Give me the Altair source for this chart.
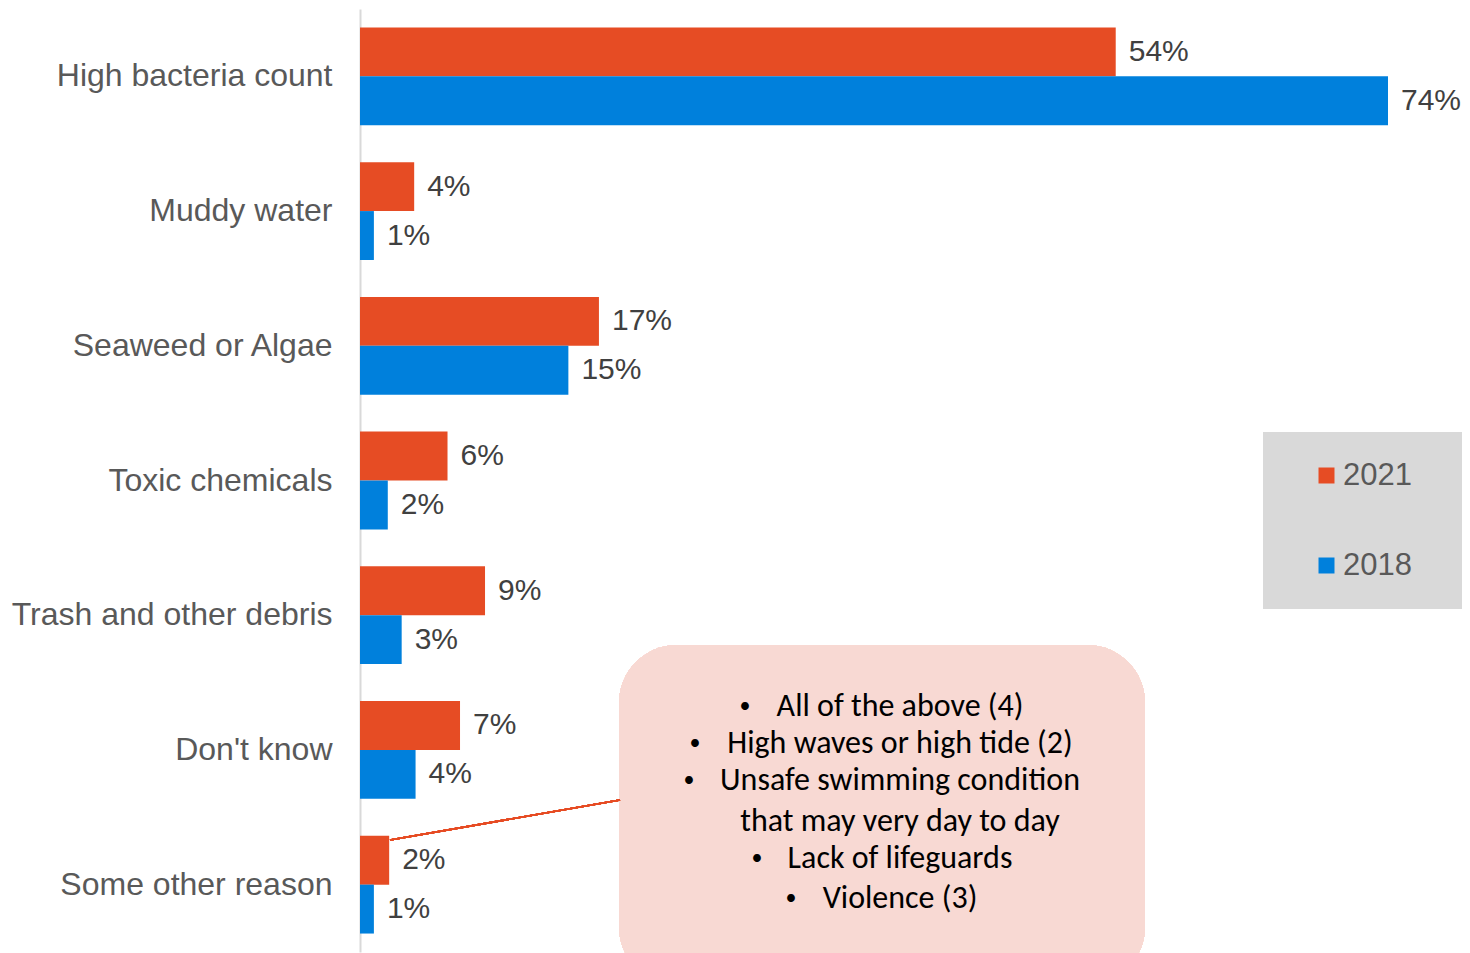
import altair as alt
import pandas as pd

categories = ["High bacteria count", "Muddy water", "Seaweed or Algae", "Toxic chemicals",
              "Trash and other debris", "Don't know", "Some other reason"]
years = ["2021", "2018"]
values_2021 = [54.4, 3.9, 17.2, 6.3, 9.0, 7.2, 2.1]
values_2018 = [74.0, 1.0, 15.0, 2.0, 3.0, 4.0, 1.0]
colors = ["#E64C24", "#0080DC"]

note_lines = [
    "All of the above (4)",
    "High waves or high tide (2)",
    "Unsafe swimming condition",
    "that may very day to day",
    "Lack of lifeguards",
    "Violence (3)",
]
note_bullets = [True, True, True, False, True, True]

rows = []
for c, a, b in zip(categories, values_2021, values_2018):
    rows.append({"cat": c, "year": "2021", "value": a, "label": f"{round(a)}%"})
    rows.append({"cat": c, "year": "2018", "value": b, "label": f"{round(b)}%"})
df = pd.DataFrame(rows)

W, H = 1028, 943
LABEL_FONT = "Liberation Sans"
NOTE_FONT = "Carlito, Liberation Sans Narrow, Open Sans, sans-serif"

x = alt.X("value:Q", scale=alt.Scale(domain=[0, 74], nice=False, zero=True), axis=None)
y = alt.Y("cat:N", sort=categories, title=None,
          scale=alt.Scale(paddingInner=0.274, paddingOuter=0.137),
          axis=alt.Axis(ticks=False, labelPadding=28, labelFontSize=32, labelFont=LABEL_FONT,
                        labelColor="#595959", domainColor="#d9d9d9", domainWidth=2,
                        labelLimit=400, grid=False))
yoff = alt.YOffset("year:N", sort=years, scale=alt.Scale(paddingInner=0, paddingOuter=0))

base = alt.Chart(df)

legend_box = base.mark_rect(color="#d9d9d9").encode(
    x=alt.value(903), x2=alt.value(1103), y=alt.value(423), y2=alt.value(600))

bars = base.mark_bar().encode(
    x=x, y=y, yOffset=yoff,
    color=alt.Color("year:N", sort=years,
                    scale=alt.Scale(domain=years, range=colors),
                    legend=alt.Legend(title=None, orient="none", legendX=951, legendY=451,
                                      symbolType="square", symbolSize=256,
                                      symbolStrokeWidth=0, labelFontSize=31,
                                      labelFont=LABEL_FONT, labelColor="#595959",
                                      labelOffset=1, rowPadding=58, padding=0)),
)

labels = base.mark_text(align="left", baseline="middle", dx=13, fontSize=30,
                        font=LABEL_FONT, color="#404040").encode(
    x=x, y=y, yOffset=yoff, text="label:N")

note_box = base.mark_rect(color="#F8D9D3", cornerRadius=58).encode(
    x=alt.value(259), x2=alt.value(785), y=alt.value(636), y2=alt.value(976))

connector = base.mark_rule(color="#E64C24", strokeWidth=1.5).encode(
    x=alt.value(30), x2=alt.value(260), y=alt.value(831), y2=alt.value(791))

note_y = [697, 734, 771, 812, 849, 889]
bullet_x = [385, 335, 329, None, 397, 431]
note_layers = []
for t, ny, has_b, bx in zip(note_lines, note_y, note_bullets, bullet_x):
    note_layers.append(
        alt.Chart(pd.DataFrame({"t": [t]})).mark_text(
            align="center", baseline="middle", fontSize=32, font=NOTE_FONT, color="#000000"
        ).encode(x=alt.value(540), y=alt.value(ny), text="t:N"))
    if has_b:
        note_layers.append(
            alt.Chart(pd.DataFrame({"t": ["\u2022"]})).mark_text(
                align="center", baseline="middle", fontSize=22, font=NOTE_FONT, color="#000000"
            ).encode(x=alt.value(bx), y=alt.value(ny), text="t:N"))

chart = alt.layer(legend_box, bars, labels, note_box, connector, *note_layers).properties(
    width=W, height=H,
    autosize=alt.AutoSizeParams(type="none"),
    padding={"left": 352, "top": 1, "right": 74, "bottom": 1},
).configure_view(stroke=None)

chart.save("out.html", embed_options={"renderer": "svg", "actions": False})
